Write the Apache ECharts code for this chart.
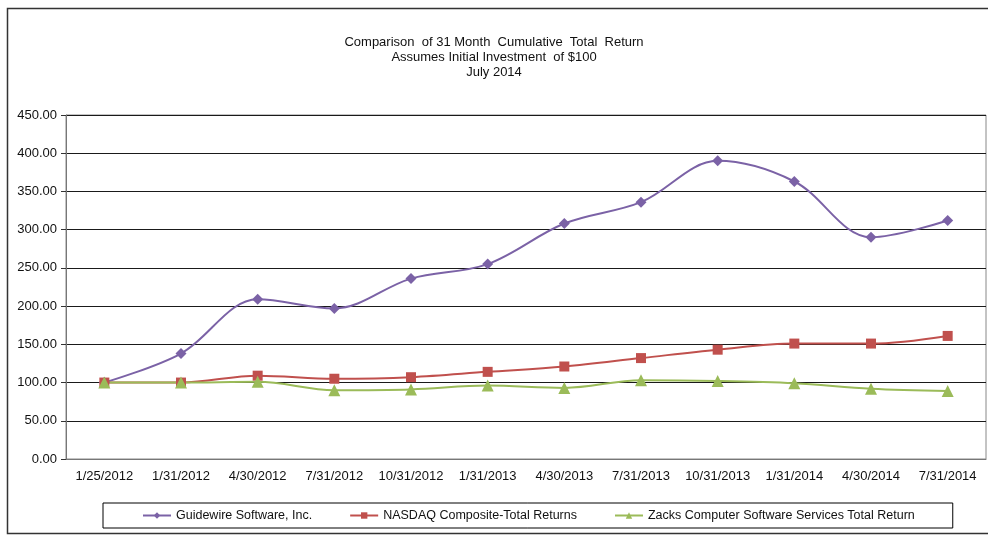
<!DOCTYPE html>
<html><head><meta charset="utf-8">
<script src="https://cdn.jsdelivr.net/npm/echarts@6/dist/echarts.min.js"></script>
<style>html,body{margin:0;padding:0;background:#fff}#c{width:988px;height:536px}</style>
</head><body><div id="c"></div>
<script>
const categories = ['1/25/2012','1/31/2012','4/30/2012','7/31/2012','10/31/2012','1/31/2013','4/30/2013','7/31/2013','10/31/2013','1/31/2014','4/30/2014','7/31/2014'];
const guidewire = [100, 138, 209, 197, 236, 255, 308, 336, 390, 363, 290, 312];
const nasdaq = [100, 100, 109, 105, 107, 114, 121, 132, 143, 151, 151, 161];
const zacks = [100, 100, 101, 90, 91, 96, 93, 103, 102, 99, 92, 89];
const seriesNames = ['Guidewire Software, Inc.', 'NASDAQ Composite-Total Returns', 'Zacks Computer Software Services Total Return'];
const titleLines = ['Comparison  of 31 Month  Cumulative  Total  Return', 'Assumes Initial Investment  of $100', 'July 2014'];

const chart = echarts.init(document.getElementById('c'));
const font = 'Liberation Sans, Arial, sans-serif';
function mk(name, data, color, symbol, size) {
  return { name, type: 'line', data, smooth: 0.35, symbol, symbolSize: size,
    lineStyle: { color, width: 2 }, itemStyle: { color }, z: 3 };
}
chart.setOption({
  animation: false,
  textStyle: { fontFamily: font },
  title: { text: titleLines.join('\n'), left: 'center', top: 30,
    textStyle: { fontSize: 13, fontWeight: 'normal', color: '#111', lineHeight: 15, fontFamily: font } },
  graphic: [{ type: 'rect', shape: { x: 7.5, y: 8.5, width: 990, height: 525 }, style: { fill: 'none', stroke: '#333', lineWidth: 1.5 }, z: -1 }],
  grid: { left: 66, right: 2, top: 115, bottom: 77, show: true, borderColor: '#888', borderWidth: 1 },
  legend: { top: 503, left: 103, data: seriesNames, borderColor: '#000', borderWidth: 1,
    padding: [6, 38, 6, 39], itemGap: 37, itemWidth: 28, itemHeight: 8,
    textStyle: { fontSize: 12.5, color: '#111', fontFamily: font } },
  xAxis: { type: 'category', data: categories, boundaryGap: true,
    axisLine: { lineStyle: { color: '#777' } },
    axisTick: { alignWithLabel: true, inside: true, length: 4, lineStyle: { color: '#333' } },
    axisLabel: { color: '#111', fontSize: 13, margin: 11, interval: 0 } },
  yAxis: { type: 'value', min: 0, max: 450, interval: 50,
    axisLine: { show: true, lineStyle: { color: '#777' } }, axisTick: { show: true, length: 5, lineStyle: { color: '#333' } },
    axisLabel: { color: '#111', fontSize: 13, formatter: v => v.toFixed(2), margin: 9 },
    splitLine: { lineStyle: { color: '#1a1a1a', width: 1 } } },
  series: [
    mk(seriesNames[0], guidewire, '#7b62a6', 'diamond', 11),
    mk(seriesNames[1], nasdaq, '#c0504d', 'rect', 10),
    mk(seriesNames[2], zacks, '#9bbb59', 'triangle', 12)
  ]
});
</script></body></html>
